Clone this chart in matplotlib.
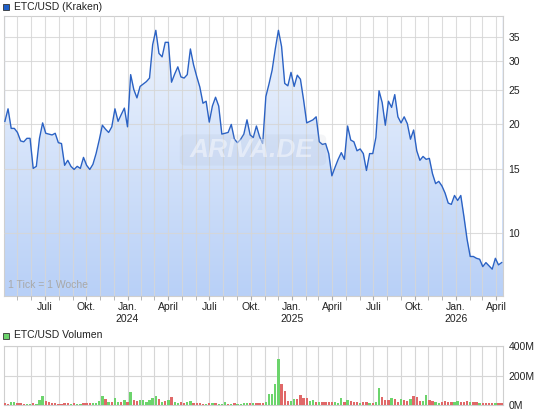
# ETC/USD weekly chart with volume (ariva style)

import numpy as np
import pandas as pd
import matplotlib
matplotlib.use('Agg')
import matplotlib.pyplot as plt
import matplotlib.dates as mdates
from matplotlib.patches import Rectangle, FancyBboxPatch
from matplotlib.colors import LinearSegmentedColormap
from matplotlib.ticker import FixedLocator, FuncFormatter, NullFormatter, NullLocator

plt.rcParams['font.family'] = ['Liberation Sans', 'DejaVu Sans']

# Data (weekly closes)
start = '2023-04-03'
price = [20.4, 22.1, 19.5, 19.5, 19.0, 18.0, 17.9, 18.3, 18.3, 15.1,
         15.3, 18.3, 20.2, 18.9, 18.8, 18.7, 18.9, 17.8, 17.7, 15.4,
         15.9, 15.3, 15.0, 15.3, 15.1, 16.2, 15.4, 15.0, 15.5, 16.6,
         18.1, 19.9, 19.4, 19.0, 19.7, 22.1, 20.4, 21.3, 22.2, 19.7,
         27.5, 25.0, 23.7, 25.5, 25.9, 26.3, 26.9, 33.3, 36.5, 31.5,
         30.8, 33.8, 33.8, 26.2, 27.6, 28.9, 27.1, 26.9, 27.5, 32.4,
         29.3, 27.2, 25.4, 22.9, 23.2, 20.3, 22.5, 23.8, 22.5, 18.8,
         18.9, 19.0, 20.0, 18.2, 17.8, 18.2, 18.8, 20.6, 18.7, 18.4,
         19.8, 18.5, 17.7, 23.9, 25.9, 28.3, 32.4, 36.5, 32.9, 26.0,
         25.6, 27.9, 25.5, 27.4, 26.7, 23.4, 20.2, 20.4, 20.6, 21.0,
         17.9, 17.6, 17.7, 16.6, 14.4, 15.2, 16.0, 16.7, 16.0, 19.8,
         18.1, 17.9, 16.9, 17.1, 16.6, 14.9, 16.6, 16.6, 18.4, 24.8,
         23.0, 19.9, 23.2, 22.3, 24.2, 21.0, 20.2, 21.0, 20.1, 18.2,
         19.3, 16.9, 15.9, 16.3, 16.0, 16.1, 14.6, 13.7, 13.9, 13.5,
         12.9, 12.1, 12.0, 12.7, 12.3, 12.7, 11.1, 9.6, 8.6, 8.6,
         8.5, 8.45, 8.06, 8.27, 8.1, 7.93, 8.5, 8.15, 8.27]

# volume in millions
volume = [12, 9, 19, 19, 14, 12, 7, 5, 5, 12,
          7, 35, 58, 28, 19, 14, 12, 7, 9, 12,
          12, 7, 14, 9, 7, 12, 12, 12, 12, 14,
          28, 58, 42, 19, 23, 46, 23, 19, 32, 19,
          86, 32, 28, 32, 32, 23, 32, 46, 58, 42,
          23, 28, 32, 51, 19, 16, 19, 16, 19, 30,
          12, 14, 14, 7, 7, 12, 12, 12, 7, 7,
          19, 9, 7, 12, 7, 7, 12, 12, 12, 12,
          12, 12, 14, 19, 74, 74, 139, 313, 144, 93,
          28, 28, 42, 42, 65, 46, 46, 28, 32, 23,
          23, 23, 23, 19, 19, 23, 12, 46, 23, 32,
          28, 19, 19, 12, 19, 19, 12, 12, 23, 116,
          51, 32, 32, 46, 42, 23, 42, 32, 28, 42,
          60, 51, 28, 28, 65, 32, 28, 19, 12, 19,
          28, 19, 19, 23, 28, 23, 23, 28, 19, 19,
          19, 12, 12, 12, 12, 12, 12, 12, 12]
vol_dir = ("rrggrrrggr" "gggrrrrrrr" "rgrggrrrgg" "ggrgrggrgr" "grrggggggr"
           "grgrggrrgg" "rrrrgrgrgg" "grgrggggrg" "rrrgggggrr" "rggrrrrggr"
           "grrrrgggrg" "rrrgrrgrgg" "rrrgrrgrrg" "rrrggrrggr" "rrrggrrrgr"
           "rgrrrrgrr")

price_ticks = [10, 15, 20, 25, 30, 35]
vol_ticks = [0, 200, 400]
vol_labels = ['0M', '200M', '400M']
month_names = {1: 'Jan.', 4: 'April', 7: 'Juli', 10: 'Okt.'}

dates = pd.date_range(start, periods=len(price), freq='7D')
x0 = pd.Timestamp('2023-04-01')
x1 = pd.Timestamp('2026-04-16')
months = pd.date_range('2023-05-01', '2026-04-01', freq='MS')
quarters = [d for d in months if d.month in month_names]

W, H = 545, 413
fig = plt.figure(figsize=(W / 100, H / 100), dpi=100)

grid_col = '#d6d6d6'
line_col = '#2b62c4'

# ---- price panel ----
ax = fig.add_axes([4 / W, 1 - 296 / H, 499 / W, 280 / H])
ax.set_yscale('log')
ylo, yhi = 6.68, 40
ax.set_xlim(x0, x1)
ax.set_ylim(ylo, yhi)

cmap = LinearSegmentedColormap.from_list('fillgrad', ['#b8d0f7', '#f0f5fd'])
grad = np.linspace(0, 1, 256).reshape(-1, 1)
ax.imshow(grad, cmap=cmap, extent=[0, 1, 0, 1], origin='lower',
          transform=ax.transAxes, aspect='auto', zorder=0)
ax.fill_between(dates, price, yhi, color='white', zorder=1, lw=0)
ax.fill_between([x0, dates[0]], [yhi, yhi], ylo, color='white', zorder=1, lw=0)
ax.plot(dates, price, color=line_col, lw=1.0, zorder=3)
ax.set_xlim(x0, x1)
ax.set_ylim(ylo, yhi)

ax.yaxis.tick_right()
ax.yaxis.set_major_locator(FixedLocator(price_ticks))
ax.yaxis.set_major_formatter(FuncFormatter(lambda v, p: '%d' % v))
ax.yaxis.set_minor_locator(NullLocator())
ax.yaxis.set_minor_formatter(NullFormatter())

ax.xaxis.set_major_locator(FixedLocator(mdates.date2num(quarters)))
ax.xaxis.set_minor_locator(FixedLocator(mdates.date2num(months)))


def qlabel(v, pos):
    d = mdates.num2date(v)
    s = month_names[d.month]
    if d.month == 1:
        s += '\n' + str(d.year)
    return s


ax.xaxis.set_major_formatter(FuncFormatter(qlabel))
ax.tick_params(axis='y', length=0, pad=4, labelsize=7.5, colors='#222222')
ax.tick_params(axis='x', which='both', length=3, color='#aaaaaa', pad=1,
               labelsize=7.5, labelcolor='#222222')
ax.set_axisbelow(False)
ax.grid(axis='x', which='both', color=grid_col, lw=0.8, alpha=0.85)
ax.grid(axis='y', which='major', color=grid_col, lw=0.8, alpha=0.85)
for s in ax.spines.values():
    s.set_color('#cfcfcf')
    s.set_linewidth(0.8)
for lbl in ax.get_xticklabels():
    lbl.set_linespacing(1.35)

ax.text(4 / 499, 6 / 280, '1 Tick = 1 Woche', transform=ax.transAxes,
        fontsize=7.5, color='#a8a8a8', va='bottom', ha='left', zorder=4)

# watermark
fig.patches.append(FancyBboxPatch((182 / W, 1 - 164 / H), 142 / W, 28 / H,
                                  boxstyle='round,pad=0.004,rounding_size=0.012',
                                  transform=fig.transFigure, facecolor='#9aa6b8',
                                  alpha=0.10, edgecolor='none', zorder=5))
fig.text(252 / W, 1 - 150 / H, 'ARIVA.DE', fontsize=19, fontstyle='italic',
         fontweight='bold', color='white', alpha=0.45, ha='center', va='center',
         zorder=6)

# header
fig.patches.append(Rectangle((3 / W, 1 - 10 / H), 6 / W, 6 / H, transform=fig.transFigure,
                             facecolor='#1f5fc8', edgecolor='#333333', lw=0.6))
fig.text(14.5 / W, 1 - 6.5 / H, 'ETC/USD (Kraken)', fontsize=7.5, va='center',
         ha='left', color='#222222')

# ---- volume panel ----
ax2 = fig.add_axes([4 / W, 1 - 405 / H, 499 / W, 59 / H])
bar_cols = ['#6cd46c' if c == 'g' else '#e06868' for c in vol_dir]
ax2.bar(dates, volume, width=5.2, color=bar_cols, zorder=3)
ax2.set_xlim(x0, x1)
ax2.set_ylim(0, 400)
ax2.yaxis.tick_right()
ax2.yaxis.set_major_locator(FixedLocator(vol_ticks))
ax2.set_yticklabels(vol_labels)
ax2.xaxis.set_major_locator(FixedLocator(mdates.date2num(months)))
ax2.xaxis.set_major_formatter(NullFormatter())
ax2.tick_params(axis='x', length=0)
ax2.tick_params(axis='y', length=0, pad=4, labelsize=7.5, colors='#222222')
ax2.grid(axis='both', color=grid_col, lw=0.8)
ax2.set_axisbelow(True)
for s in ax2.spines.values():
    s.set_color('#cfcfcf')
    s.set_linewidth(0.8)

fig.patches.append(Rectangle((3 / W, 1 - 339 / H), 6 / W, 6 / H, transform=fig.transFigure,
                             facecolor='#6cd46c', edgecolor='#333333', lw=0.6))
fig.text(14.5 / W, 1 - 335.5 / H, 'ETC/USD Volumen', fontsize=7.5, va='center',
         ha='left', color='#222222')

fig.savefig('out.png', dpi=100)
